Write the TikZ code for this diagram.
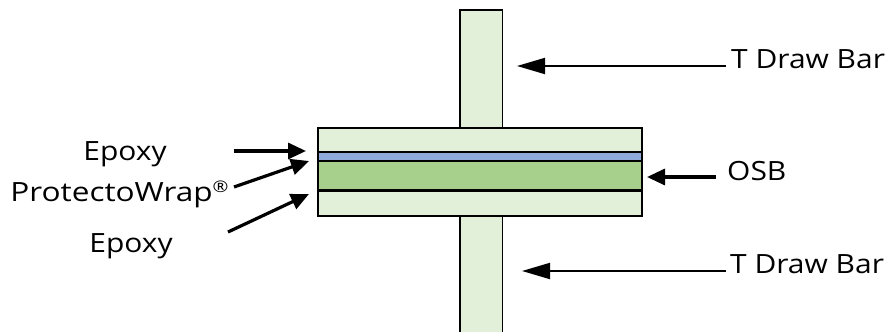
\documentclass[tikz,border=0pt]{standalone}
\usepackage{fontspec}
\setmainfont[FakeStretch=1.13]{Open Sans}
\usetikzlibrary{arrows.meta}
\definecolor{palegreen}{HTML}{E2EFD9}
\definecolor{midgreen}{HTML}{A8D08D}
\definecolor{wrapblue}{HTML}{8EAADB}
\tikzset{
  layer/.style={draw=black,line width=1.6pt,inner sep=0pt},
  label/.style={inner sep=0pt,font=\fontsize{26.5}{30}\selectfont,text=black},
  thickarrow/.style={draw=black,line width=3.2pt,-{Triangle[length=18pt,width=16pt]}},
  thinarrow/.style={draw=black,line width=1.9pt,-{Triangle[length=28pt,width=16pt]}},
}
\newcommand{\regmark}{\raisebox{0.62ex}{\fontsize{16}{16}\selectfont ®}}
\begin{document}
\begin{tikzpicture}[x=1pt,y=-1pt]
\useasboundingbox (0,0) rectangle (887,332);
% bars
\draw[layer,fill=palegreen] (460,10) rectangle (502.5,128);
\draw[layer,fill=palegreen] (460,216) rectangle (502.5,340);
% flange
\draw[layer,fill=palegreen] (318,128) rectangle (642,216);
\draw[layer,fill=wrapblue] (318,152) rectangle (642,161);
\draw[layer,fill=midgreen] (318,161) rectangle (642,190.5);
\draw[draw=black,line width=2.7pt] (318,161) -- (642,161);
\draw[draw=black,line width=2.7pt] (318,190.5) -- (642,190.5);
% labels
\node[label,anchor=base] (epoxyA) at (125,160) {Epoxy};
\node[label,anchor=base] (wrap) at (119.5,201) {\addfontfeature{FakeStretch=1.19}ProtectoWrap\regmark};
\node[label,anchor=base] (epoxyB) at (131,252) {Epoxy};
\node[label,anchor=base west] (barA) at (731,68) {T Draw Bar};
\node[label,anchor=base west] (osb) at (727,180) {OSB};
\node[label,anchor=base west] (barB) at (730,273) {T Draw Bar};
% connector ends
\coordinate (a1) at (234,151); \coordinate (a2) at (306,151);
\coordinate (b1) at (234,187); \coordinate (b2) at (309,161);
\coordinate (c1) at (228,232); \coordinate (c2) at (309,194);
\coordinate (d1) at (726,66);  \coordinate (d2) at (517,66);
\coordinate (e1) at (716,177); \coordinate (e2) at (647,177);
\coordinate (f1) at (726,271); \coordinate (f2) at (522,271);
\draw[thickarrow] (a1) -- (a2);
\draw[thickarrow] (b1) -- (b2);
\draw[thickarrow] (c1) -- (c2);
\draw[thinarrow] (d1) -- (d2);
\draw[thickarrow] (e1) -- (e2);
\draw[thinarrow] (f1) -- (f2);
\end{tikzpicture}
\end{document}
